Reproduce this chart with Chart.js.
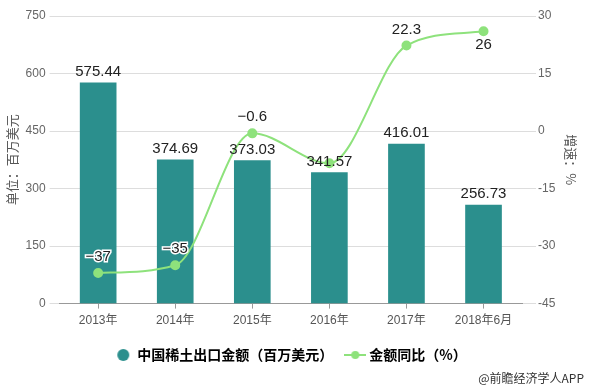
<!DOCTYPE html>
<html>
<head>
<meta charset="utf-8">
<script src="https://cdn.jsdelivr.net/npm/chart.js@4/dist/chart.umd.min.js"></script>
<style>
  html,body{margin:0;padding:0;background:#fff;}
  #wrap{width:589px;height:388px;position:relative;}
</style>
</head>
<body>
<div id="wrap"><canvas id="myChart"></canvas></div>
<script>
// 数据
const years = ["2013年", "2014年", "2015年", "2016年", "2017年", "2018年6月"];
const exportValues = [575.44, 374.69, 373.03, 341.57, 416.01, 256.73];
const growthRates = [-37, -35, -0.6, -8.4, 22.3, 26];
const growthLabelHidden = [false, false, false, true, false, false];

const barColor = "#2b8f8d";
const lineColor = "#8ee27c";
const fontFamily = "'Liberation Sans', 'Noto Sans CJK SC', sans-serif";

// 图例里的 线+点 图标
function linePointIcon(){
    const c = document.createElement("canvas");
    c.width = 22; c.height = 10;
    const g = c.getContext("2d");
    g.strokeStyle = lineColor;
    g.lineWidth = 2;
    g.beginPath(); g.moveTo(0,5); g.lineTo(22,5); g.stroke();
    g.fillStyle = lineColor;
    g.beginPath(); g.arc(11,5,4,0,Math.PI*2); g.fill();
    return c;
}
function circleIcon(){
    const c = document.createElement("canvas");
    c.width = 14; c.height = 14;
    const g = c.getContext("2d");
    g.fillStyle = barColor;
    g.beginPath(); g.arc(7,7,6,0,Math.PI*2); g.fill();
    return c;
}

// 数值标签 + 右下角文字
const labelPlugin = {
    id: "labels",
    afterDatasetsDraw(chart){
        const ctx = chart.ctx;
        ctx.save();
        ctx.textAlign = "center";
        ctx.textBaseline = "middle";

        // 柱子数值
        ctx.font = "15px " + fontFamily;
        ctx.fillStyle = "#222";
        chart.getDatasetMeta(0).data.forEach((bar, i)=>{
            ctx.fillText(exportValues[i].toFixed(2), bar.x, bar.y - 11);
        });

        // 折线数值
        ctx.font = "15px " + fontFamily;
        chart.getDatasetMeta(1).data.forEach((pt, i)=>{
            if(growthLabelHidden[i]) return;
            const below = i === growthRates.length - 1;
            const y = below ? pt.y + 14 : pt.y - 16;
            const txt = String(growthRates[i]).replace("-", "−");
            ctx.lineWidth = 3;
            ctx.strokeStyle = "#fff";
            ctx.strokeText(txt, pt.x, y);
            ctx.fillStyle = "#222";
            ctx.fillText(txt, pt.x, y);
        });

        // 右下角
        ctx.font = "12px 'Noto Sans CJK SC', sans-serif";
        ctx.textAlign = "right";
        ctx.fillStyle = "#333";
        ctx.fillText("@前瞻经济学人APP", 584, 378);
        ctx.restore();
    }
};

new Chart(document.getElementById("myChart"),{
    data:{
        labels: years,
        datasets:[
            {
                type:"bar",
                label:"中国稀土出口金额（百万美元）",
                data:exportValues,
                yAxisID:"y",
                backgroundColor:barColor,
                barThickness:36,
                order:1
            },
            {
                type:"line",
                label:"金额同比（%）",
                data:growthRates,
                yAxisID:"y1",
                borderColor:lineColor,
                backgroundColor:lineColor,
                borderWidth:2,
                pointRadius:4,
                pointHoverRadius:4,
                cubicInterpolationMode:"monotone",
                order:0
            }
        ]
    },
    options:{
        responsive:true,
        maintainAspectRatio:false,
        animation:false,
        layout:{padding:{top:16, left:4, right:10, bottom:16}},
        plugins:{
            tooltip:{enabled:false},
            legend:{
                position:"bottom",
                labels:{
                    usePointStyle:true,
                    color:"#333",
                    padding:15,
                    boxWidth:22,
                    font:{size:14, weight:"bold", family:"'Noto Sans CJK SC', sans-serif"},
                    generateLabels(chart){
                        return chart.data.datasets.map((ds, i)=>({
                            text: ds.label,
                            datasetIndex: i,
                            pointStyle: ds.type === "bar" ? circleIcon() : linePointIcon(),
                            fillStyle: ds.backgroundColor,
                            strokeStyle: ds.backgroundColor,
                            lineWidth: 0,
                            hidden: false
                        }));
                    }
                }
            }
        },
        scales:{
            x:{
                grid:{display:true, drawOnChartArea:false, offset:false, tickLength:5, color:"#999"},
                border:{color:"#999"},
                ticks:{color:"#555", font:{size:12, family:fontFamily}, padding:5}
            },
            y:{
                position:"left",
                min:0, max:750,
                ticks:{stepSize:150, color:"#666", font:{size:12, family:fontFamily}, padding:4},
                grid:{color:"#dddddd", tickLength:10},
                border:{display:false},
                title:{display:true, text:"单位：百万美元", color:"#555",
                    font:{size:13, family:"'Noto Sans CJK SC', sans-serif"}, padding:{top:0,bottom:2}}
            },
            y1:{
                position:"right",
                min:-45, max:30,
                ticks:{stepSize:15, color:"#666", font:{size:12, family:fontFamily}, padding:2},
                grid:{drawOnChartArea:false, color:"#dddddd", tickLength:14},
                border:{display:false},
                title:{display:true, text:"增速：%", color:"#555",
                    font:{size:13, family:"'Noto Sans CJK SC', sans-serif"}, padding:{top:0,bottom:6}}
            }
        }
    },
    plugins:[labelPlugin]
});
</script>
</body>
</html>
